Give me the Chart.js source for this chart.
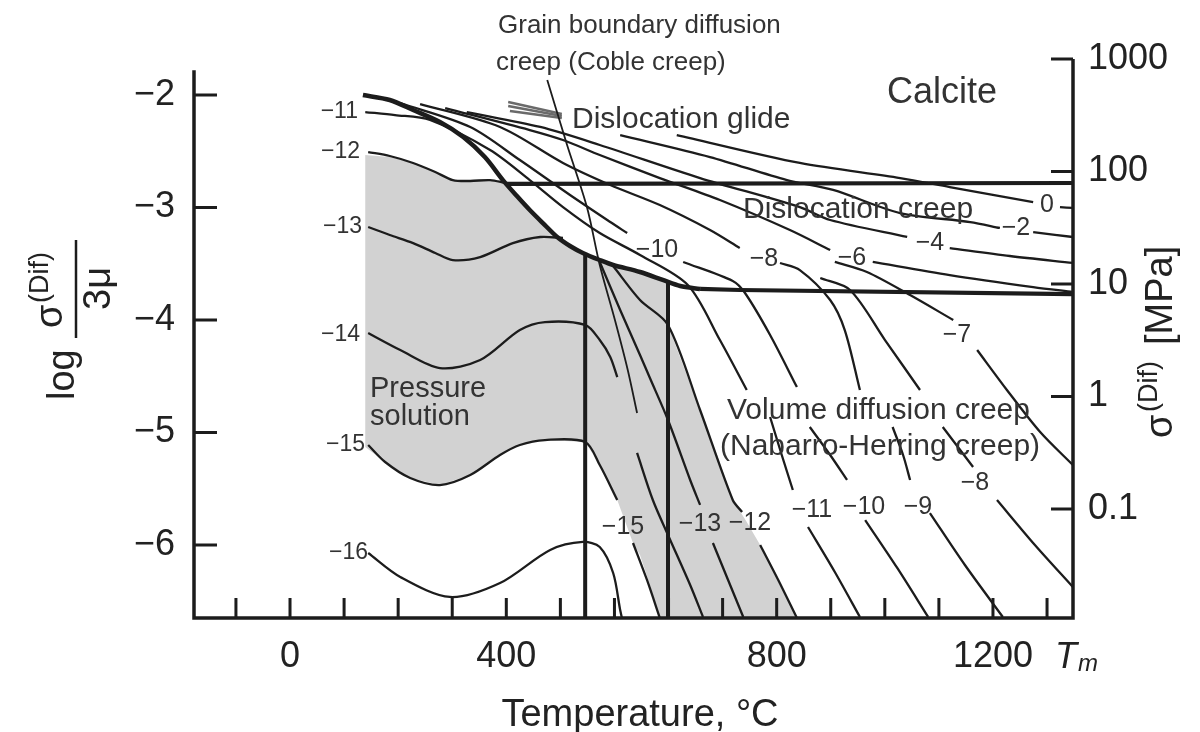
<!DOCTYPE html>
<html>
<head>
<meta charset="utf-8">
<script src="https://cdn.jsdelivr.net/npm/chart.js@4.4.1/dist/chart.umd.min.js"></script>
<style>
  html, body { margin: 0; padding: 0; background: #fff; }
  #wrap { width: 1200px; height: 732px; }
</style>
</head>
<body>
<div id="wrap"><canvas id="map" width="1200" height="732"></canvas></div>
<script>
// ========================================
// AXES
// ========================================
const yTicks = [-6, -5, -4, -3, -2];                 // log(sigma/3mu)
const stressTicks = [-1, 0, 1, 2, 3];                // log sigma [MPa]
const stressTickLabels = ['0.1', '1', '10', '100', '1000'];
const stressOffset = 4.68;                           // log sigma[MPa] - log(sigma/3mu)
const tempStep = 92.7;                               // spacing of temperature ticks, C
const tempTickIdx = [-1, 0, 1, 2, 3, 4, 5, 6, 7, 8, 9, 10, 11, 12, 13, 14];
const tempTickLabels = ['', '0', '', '', '', '400', '', '', '', '', '800', '', '', '', '1200', ''];
const tempMin = -164.6, tempMax = 1342.3;           // right edge = Tm
const logMin = -6.649, logMax = -1.653;

// ========================================
// DATA  [temperature C, log(sigma/3mu)]
// ========================================
// thick mechanism boundaries
const boundaryCurve = [[125,-2.000],[171,-2.044],[211,-2.133],[257,-2.240],[297,-2.373],[334,-2.551],[365,-2.756],[389,-2.898],[411,-3.022],[437,-3.156],[458,-3.262],[480,-3.342],[502,-3.404],[531,-3.467],[554,-3.511],[600,-3.573],[639,-3.644],[669,-3.698],[703,-3.724]];
const boundaryLower = [[703,-3.724],[771,-3.733],[1342,-3.769]];
const boundaryUpper = [[372,-2.790],[1342,-2.782]];
const boundaryCoble = [[506,-3.404],[506,-6.649]];
const boundaryVolume = [[648,-3.662],[648,-6.649]];

// grey fields
const pressureSolutionArea = [[129,-2.533],[171,-2.551],[211,-2.604],[249,-2.684],[279,-2.756],[309,-2.764],[343,-2.756],[365,-2.756],[389,-2.898],[411,-3.022],[437,-3.156],[458,-3.262],[480,-3.342],[506,-3.413],[506,-5.084],[437,-5.067],[394,-5.111],[360,-5.200],[309,-5.378],[257,-5.467],[206,-5.404],[163,-5.262],[129,-5.129]];
const cobleArea = [[506,-3.404],[531,-3.467],[554,-3.511],[600,-3.573],[648,-3.662],[648,-4.044],[677,-4.444],[703,-4.800],[732,-5.200],[759,-5.600],[783,-5.796],[806,-6.000],[837,-6.311],[869,-6.649],[634,-6.649],[617,-6.356],[600,-6.089],[588,-5.982],[561,-5.600],[531,-5.289],[506,-5.084]];

// strain-rate contours (log strain rate), split where labels sit
const contour0 = [
  [[663,-2.356],[874,-2.604],[1046,-2.738],[1131,-2.818],[1274,-2.951]],
  [[1320,-2.996],[1342,-3.004]]
];
const contourM2 = [
  [[566,-2.356],[720,-2.551],[852,-2.756],[931,-2.844],[1046,-3.049],[1166,-3.129],[1217,-3.182]],
  [[1274,-3.218],[1342,-3.262]]
];
const contourM4 = [
  [[303,-2.151],[429,-2.284],[531,-2.444],[703,-2.738],[874,-2.996],[926,-3.111],[1058,-3.262]],
  [[1131,-3.360],[1234,-3.431],[1342,-3.493]]
];
const contourM6 = [
  [[266,-2.116],[411,-2.311],[468,-2.400],[531,-2.533],[634,-2.738],[737,-2.933],[857,-3.200],[926,-3.378]],
  [[999,-3.484],[1131,-3.600],[1274,-3.707],[1342,-3.751]]
];
const contourM7 = [
  [[934,-3.484],[989,-3.573],[1063,-3.778],[1137,-4.000]],
  [[1178,-4.267],[1229,-4.622],[1286,-4.996],[1342,-5.289]]
];
const contourM8 = [
  [[223,-2.080],[360,-2.284],[468,-2.604],[549,-2.800],[634,-2.978],[720,-3.200],[771,-3.360]],
  [[840,-3.493],[874,-3.556],[926,-3.822],[951,-4.089],[977,-4.622]],
  [[1033,-4.951],[1051,-5.200],[1063,-5.422]],
  [[1097,-5.716],[1157,-6.178],[1222,-6.640]]
];
const contourM8b = [
  [[909,-3.627],[960,-3.733],[1020,-4.178],[1080,-4.622]],
  [[1119,-4.951],[1171,-5.307]],
  [[1212,-5.600],[1277,-6.000],[1342,-6.373]]
];
const contourM10 = [
  [[189,-2.071],[309,-2.284],[394,-2.578],[480,-2.889],[549,-3.129],[578,-3.227]],
  [[674,-3.484],[759,-3.653],[780,-3.760],[823,-4.133],[869,-4.596]],
  [[891,-4.951],[926,-5.200],[955,-5.422]],
  [[986,-5.778],[1041,-6.204],[1094,-6.640]]
];
const contourM11 = [
  [[129,-2.151],[180,-2.178],[240,-2.222],[343,-2.489],[411,-2.756],[468,-2.996],[531,-3.227],[600,-3.422],[682,-3.689],[737,-4.178],[783,-4.622]],
  [[823,-4.862],[843,-5.200],[862,-5.511]],
  [[888,-5.840],[934,-6.240],[977,-6.640]]
];
const contourM12 = [
  [[134,-2.507],[171,-2.542],[211,-2.604],[249,-2.684],[279,-2.756],[309,-2.764],[343,-2.756],[369,-2.782]],
  [[554,-3.520],[600,-3.822],[648,-4.044],[703,-4.800],[759,-5.600],[775,-5.707]],
  [[806,-6.000],[837,-6.311],[869,-6.649]]
];
const contourM13 = [
  [[134,-3.173],[171,-3.244],[211,-3.316],[249,-3.404],[279,-3.467],[326,-3.440],[382,-3.316],[429,-3.262],[468,-3.271]],
  [[531,-3.484],[566,-3.911],[600,-4.311],[617,-4.516],[648,-4.889],[686,-5.422],[703,-5.644]],
  [[725,-5.982],[751,-6.311],[777,-6.640]]
];
const contourM14 = [
  [[134,-4.116],[189,-4.267],[257,-4.427],[326,-4.356],[394,-4.089],[437,-4.018],[506,-4.044],[531,-4.178],[549,-4.329],[561,-4.507]],
  [[595,-5.182],[622,-5.600],[648,-5.911],[686,-6.356],[708,-6.640]]
];
const contourM15 = [
  [[134,-5.111],[163,-5.262],[206,-5.404],[257,-5.467],[309,-5.378],[360,-5.200],[394,-5.111],[437,-5.067],[506,-5.084],[531,-5.289],[561,-5.600]],
  [[588,-5.982],[612,-6.311],[634,-6.649]]
];
const contourM16 = [
  [[134,-6.071],[189,-6.284],[274,-6.462],[360,-6.338],[446,-6.044],[502,-5.973],[531,-6.018],[554,-6.249],[566,-6.578],[569,-6.649]]
];

// leader lines of the field names
const cobleLeader = [[441,-1.867],[475,-2.444],[509,-2.996],[531,-3.511],[557,-4.000],[579,-4.444],[595,-4.827]];
const glideLeaders = [
  [[374,-2.062],[466,-2.169]],
  [[374,-2.098],[466,-2.187]],
  [[377,-2.142],[466,-2.204]]
];

// ========================================
// DATASETS
// ========================================
const ink = '#1c1c1c';
const datasets = [];

function toXY(pts) {
  return pts.map(p => ({ x: p[0], y: p[1] }));
}

function addLine(pts, width, extra) {
  datasets.push(Object.assign({
    data: toXY(pts),
    borderColor: ink,
    borderWidth: width,
    pointRadius: 0,
    tension: 0.3,
    fill: false,
    order: 1
  }, extra || {}));
}

function addArea(pts) {
  datasets.push({
    data: toXY(pts),
    borderWidth: 0,
    borderColor: 'rgba(0,0,0,0)',
    backgroundColor: '#d2d2d2',
    fill: 'shape',
    pointRadius: 0,
    tension: 0,
    order: 3
  });
}

addArea(pressureSolutionArea);
addArea(cobleArea);

[contour0, contourM2, contourM4, contourM6, contourM7, contourM8, contourM8b, contourM10,
 contourM11, contourM12, contourM13, contourM14, contourM15, contourM16].forEach(c => {
  c.forEach(s => addLine(s, 2.3));
});
addLine(cobleLeader, 1.8);
glideLeaders.forEach(s => addLine(s, 2.5, { borderColor: '#6a6a6a', tension: 0 }));

addLine(boundaryCurve, 4.5);
addLine(boundaryLower, 4.2, { tension: 0 });
addLine(boundaryUpper, 4.2, { tension: 0 });
addLine(boundaryCoble, 4, { tension: 0 });
addLine(boundaryVolume, 4, { tension: 0 });

// ========================================
// DECORATION (axis lines, inward ticks, texts)
// ========================================
const leftAxisTop = -1.78;
const rightAxisTop = 3.0;
const fontFamily = '"Liberation Sans", Arial, Helvetica, sans-serif';

function txt(ctx, s, x, y, size, align, style) {
  ctx.font = (style || '') + ' ' + size + 'px ' + fontFamily;
  ctx.textAlign = align || 'left';
  ctx.fillText(s, x, y);
}

const decorPlugin = {
  id: 'decor',
  afterDatasetsDraw(chart) {
    const ctx = chart.ctx;
    const { x, y, y2 } = chart.scales;
    const xl = x.getPixelForValue(tempMin);
    const xr = x.getPixelForValue(tempMax);
    const yb = y.getPixelForValue(logMin);

    ctx.save();
    ctx.strokeStyle = ink;
    ctx.lineWidth = 3.5;
    ctx.beginPath();
    ctx.moveTo(xl, y.getPixelForValue(leftAxisTop));
    ctx.lineTo(xl, yb);
    ctx.lineTo(xr, yb);
    ctx.lineTo(xr, y2.getPixelForValue(rightAxisTop));
    ctx.stroke();

    ctx.lineWidth = 3;
    ctx.beginPath();
    yTicks.forEach(v => {
      const p = y.getPixelForValue(v);
      ctx.moveTo(xl, p); ctx.lineTo(xl + 23, p);
    });
    stressTicks.forEach(v => {
      const p = y2.getPixelForValue(v);
      ctx.moveTo(xr, p); ctx.lineTo(xr - 22, p);
    });
    tempTickIdx.forEach(k => {
      const p = x.getPixelForValue(k * tempStep);
      ctx.moveTo(p, yb); ctx.lineTo(p, yb - 20);
    });
    ctx.stroke();

    // field names
    ctx.fillStyle = '#333';
    ctx.textBaseline = 'alphabetic';
    txt(ctx, 'Grain boundary diffusion', 498, 33, 26);
    txt(ctx, 'creep (Coble creep)', 496, 70, 26);
    txt(ctx, 'Dislocation glide', 572, 128, 30);
    txt(ctx, 'Calcite', 887, 103, 36);
    txt(ctx, 'Dislocation creep', 743, 218, 30);
    txt(ctx, 'Volume diffusion creep', 727, 419, 30);
    txt(ctx, '(Nabarro-Herring creep)', 720, 455, 30);
    txt(ctx, 'Pressure', 370, 397, 29);
    txt(ctx, 'solution', 370, 425, 29);

    // contour labels
    ctx.textBaseline = 'middle';
    [['−11', 358, 112], ['−12', 360, 152], ['−13', 362, 227],
     ['−14', 360, 335], ['−15', 365, 445], ['−16', 368, 553]].forEach(l => txt(ctx, l[0], l[1], l[2], 23, 'right'));
    [['−10', 657, 250], ['−8', 764, 259], ['−6', 852, 258], ['−4', 930, 243],
     ['−2', 1016, 228], ['0', 1047, 205], ['−7', 957, 335],
     ['−15', 623, 527], ['−13', 700, 524], ['−12', 750, 523], ['−11', 812, 510],
     ['−10', 864, 507], ['−9', 918, 507], ['−8', 975, 483]].forEach(l => txt(ctx, l[0], l[1], l[2], 25, 'center'));

    // T_m at the end of the temperature axis
    ctx.fillStyle = '#222';
    ctx.textBaseline = 'alphabetic';
    txt(ctx, 'T', 1055, 668, 36, 'left', 'italic');
    txt(ctx, 'm', 1078, 671, 24, 'left', 'italic');
    txt(ctx, 'Temperature, °C', 640, 726, 38, 'center');

    // left title: log sigma(Dif) / 3 mu
    ctx.save();
    ctx.translate(74, 400);
    ctx.rotate(-Math.PI / 2);
    txt(ctx, 'log', 0, 0, 38);
    txt(ctx, 'σ', 72, -12, 38);
    txt(ctx, '(Dif)', 97, -26, 27);
    txt(ctx, '3μ', 90, 36, 38);
    ctx.lineWidth = 2.5;
    ctx.beginPath();
    ctx.moveTo(62, 2); ctx.lineTo(160, 2);
    ctx.stroke();
    ctx.restore();

    // right title: sigma(Dif) [MPa]
    ctx.save();
    ctx.translate(1172, 438);
    ctx.rotate(-Math.PI / 2);
    txt(ctx, 'σ', 0, 0, 38);
    txt(ctx, '(Dif)', 26, -15, 27);
    txt(ctx, '[MPa]', 93, 0, 38);
    ctx.restore();

    ctx.restore();
  }
};

// ========================================
// CHART
// ========================================
Chart.defaults.font.family = fontFamily;

new Chart(document.getElementById('map'), {
  type: 'line',
  data: { datasets: datasets },
  options: {
    responsive: false,
    animation: false,
    devicePixelRatio: 1,
    layout: { padding: { top: 56, left: 0, right: 0, bottom: 0 } },
    plugins: { legend: { display: false }, tooltip: { enabled: false } },
    scales: {
      x: {
        type: 'linear',
        min: tempMin,
        max: tempMax,
        grid: { display: false, drawTicks: false },
        border: { display: false },
        afterBuildTicks: s => { s.ticks = tempTickIdx.map(k => ({ value: k * tempStep })); },
        afterFit: s => { s.height = 114; },
        ticks: {
          autoSkip: false, maxRotation: 0, minRotation: 0,
          padding: 17, color: '#222', font: { size: 36 },
          callback: (v, i) => tempTickLabels[i]
        }
      },
      y: {
        type: 'linear',
        position: 'left',
        min: logMin,
        max: logMax,
        grid: { display: false, drawTicks: false },
        border: { display: false },
        afterBuildTicks: s => { s.ticks = yTicks.map(v => ({ value: v })); },
        afterFit: s => { s.width = 194; },
        ticks: {
          padding: 19, color: '#222', font: { size: 36 },
          callback: v => '−' + Math.abs(v)
        }
      },
      y2: {
        type: 'linear',
        position: 'right',
        min: logMin + stressOffset,
        max: logMax + stressOffset,
        grid: { display: false, drawTicks: false },
        border: { display: false },
        afterBuildTicks: s => { s.ticks = stressTicks.map(v => ({ value: v })); },
        afterFit: s => { s.width = 127; },
        ticks: {
          padding: 15, color: '#222', font: { size: 36 },
          callback: (v, i) => stressTickLabels[i]
        }
      }
    }
  },
  plugins: [decorPlugin]
});
</script>
</body>
</html>
